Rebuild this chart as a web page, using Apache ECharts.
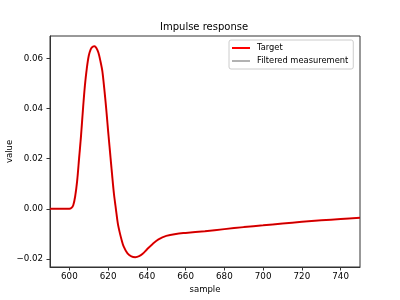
<!DOCTYPE html>
<html>
<head>
<meta charset="utf-8">
<script src="https://cdn.jsdelivr.net/npm/echarts@6/dist/echarts.min.js"></script>
<style>
  html, body { margin: 0; padding: 0; background: #fff; }
  #chart { width: 400px; height: 300px; }
</style>
</head>
<body>
<div id="chart"></div>
<script>
// sample index (x) and values
const samples = [590, 595, 600, 601, 602, 603, 604, 605, 606, 607, 608, 609, 610, 611, 612, 613, 614, 615, 616, 617, 618, 619, 620, 621, 622, 623, 624, 625, 626, 627, 628, 630, 632, 634, 636, 638, 640, 643, 646, 650, 655, 660, 670, 680, 690, 700, 710, 720, 730, 740, 750];
const target = [0, 0, 0, 0.0003, 0.0014, 0.0050, 0.0110, 0.0200, 0.0290, 0.0395, 0.0490, 0.0560, 0.0610, 0.0636, 0.0646, 0.0648, 0.0640, 0.0622, 0.0590, 0.0550, 0.0480, 0.0400, 0.0310, 0.0225, 0.0140, 0.0060, 0.0000, -0.0058, -0.0095, -0.0125, -0.0150, -0.0178, -0.0190, -0.0193, -0.0189, -0.0178, -0.0162, -0.0140, -0.0122, -0.0108, -0.0100, -0.0096, -0.0089, -0.0081, -0.0073, -0.0066, -0.0059, -0.0052, -0.0046, -0.0041, -0.0036];
// filtered measurement sits right on top of the target
const filtered = [0, 0, 0, 0.0003, 0.0014, 0.0050, 0.0110, 0.0200, 0.0290, 0.0395, 0.0490, 0.0560, 0.0610, 0.0636, 0.0646, 0.0648, 0.0640, 0.0622, 0.0590, 0.0550, 0.0480, 0.0400, 0.0310, 0.0225, 0.0140, 0.0060, 0.0000, -0.0058, -0.0095, -0.0125, -0.0150, -0.0178, -0.0190, -0.0193, -0.0189, -0.0178, -0.0162, -0.0140, -0.0122, -0.0108, -0.0100, -0.0096, -0.0089, -0.0081, -0.0073, -0.0066, -0.0059, -0.0052, -0.0046, -0.0041, -0.0036];

const xTicks = [600, 620, 640, 660, 680, 700, 720, 740];
const yTicks = [-0.02, 0, 0.02, 0.04, 0.06];

const font = 'DejaVu Sans';
const axisColor = '#333';

const chart = echarts.init(document.getElementById('chart'), null, { renderer: 'canvas' });

chart.setOption({
  animation: false,
  backgroundColor: '#fff',
  title: {
    text: 'Impulse response',
    left: 160,
    top: 22,
    padding: 0,
    textStyle: { fontFamily: font, fontSize: 10, fontWeight: 'normal', color: '#000' }
  },
  legend: {
    orient: 'vertical',
    left: 229,
    top: 40,
    padding: [4, 5, 4, 3],
    itemGap: 5,
    itemWidth: 18,
    itemHeight: 2,
    icon: 'rect',
    borderColor: '#ccc',
    borderWidth: 1,
    borderRadius: 2,
    backgroundColor: 'rgba(255,255,255,0.8)',
    textStyle: { fontFamily: font, fontSize: 8.3, color: '#000', padding: [0, 0, 0, 2] },
    data: ['Target', 'Filtered measurement']
  },
  grid: {
    left: 50, right: 40, top: 36, bottom: 33,
    outerBoundsMode: 'none',
    containLabel: false,
    show: true, borderColor: axisColor, borderWidth: 1
  },
  xAxis: {
    type: 'value',
    min: 590,
    max: 750,
    name: 'sample',
    nameLocation: 'middle',
    nameGap: 18,
    nameMoveOverlap: false,
    nameTextStyle: { fontFamily: font, fontSize: 8.5, color: '#000' },
    axisLine: { show: true, onZero: false, lineStyle: { color: axisColor, width: 1 } },
    axisTick: { show: true, length: 3.5, lineStyle: { color: axisColor }, customValues: xTicks },
    axisLabel: { fontFamily: font, fontSize: 8.7, color: '#000', margin: 5, customValues: xTicks },
    splitLine: { show: false }
  },
  yAxis: {
    type: 'value',
    min: -0.0232,
    max: 0.0689,
    name: 'value',
    nameLocation: 'middle',
    nameGap: 36,
    nameMoveOverlap: false,
    nameTextStyle: { fontFamily: font, fontSize: 8.5, color: '#000' },
    axisLine: { show: true, lineStyle: { color: axisColor, width: 1 } },
    axisTick: { show: true, length: 3.5, lineStyle: { color: axisColor }, customValues: yTicks },
    axisLabel: {
      fontFamily: font, fontSize: 8.7, color: '#000', margin: 7, customValues: yTicks,
      formatter: v => v.toFixed(2).replace('-', '\u2212')
    },
    splitLine: { show: false }
  },
  series: [
    {
      name: 'Target',
      type: 'line',
      symbol: 'none',
      smooth: 0.3,
      color: '#ff0000',
      lineStyle: { color: '#ff0000', width: 2 },
      data: samples.map((x, i) => [x, target[i]])
    },
    {
      name: 'Filtered measurement',
      type: 'line',
      symbol: 'none',
      smooth: 0.3,
      color: 'rgba(0,0,0,0.3)',
      lineStyle: { color: '#000', opacity: 0.3, width: 1 },
      data: samples.map((x, i) => [x, filtered[i]])
    }
  ]
});
</script>
</body>
</html>
